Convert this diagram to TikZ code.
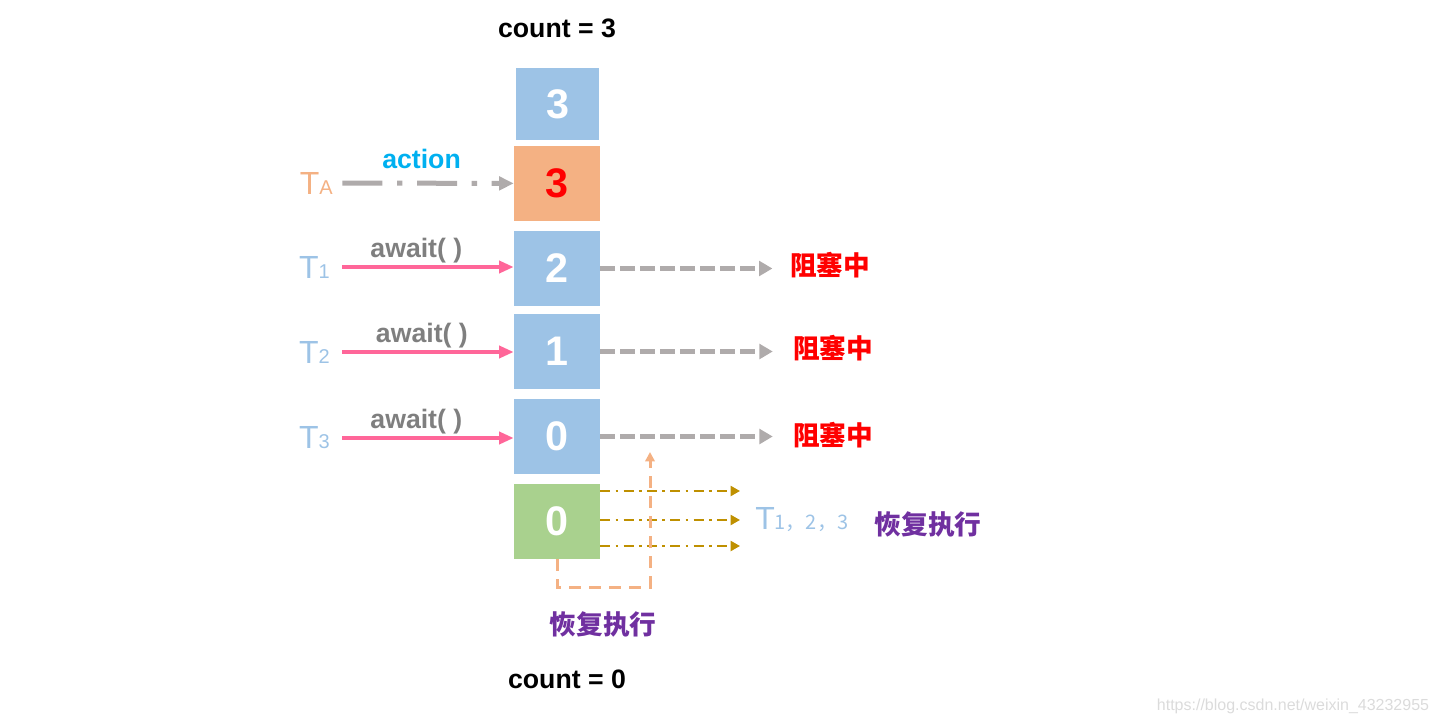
\documentclass[tikz,border=0pt]{standalone}
\usepackage{fontspec}
\setmainfont{Liberation Sans}
\newfontfamily\cjk{Noto Sans CJK SC}
\usetikzlibrary{arrows.meta,positioning}
\definecolor{cellblue}{HTML}{9DC3E6}
\definecolor{cellorange}{HTML}{F4B183}
\definecolor{cellgreen}{HTML}{A9D18E}
\definecolor{waitgray}{HTML}{AFABAB}
\definecolor{awaitpink}{HTML}{FF6699}
\definecolor{labelgray}{HTML}{7F7F7F}
\definecolor{actionblue}{HTML}{00B0F0}
\definecolor{wakeolive}{HTML}{BF9000}
\definecolor{wakepurple}{HTML}{7030A0}
\tikzset{
  cell/.style={fill=cellblue, minimum width=64.5pt, minimum height=56pt, inner sep=0pt, text=white, font=\fontsize{31}{31}\selectfont\bfseries},
  thr/.style={anchor=east, inner sep=0pt, text=cellblue, font=\fontsize{24}{24}\selectfont},
  lbl/.style={inner sep=0pt, font=\fontsize{20}{24}\selectfont\bfseries},
  zh/.style={inner sep=0pt, font=\fontsize{20}{24}\selectfont\cjk\bfseries},
  awaitarr/.style={draw=awaitpink, line width=3pt, -{Triangle[length=11pt,width=9pt]}},
  blockarr/.style={draw=waitgray, line width=3.75pt, dash pattern=on 11pt off 4pt, -{Triangle[length=10pt,width=11pt]}},
  wakearr/.style={draw=wakeolive, line width=1.5pt, dash pattern=on 7.5pt off 4pt on 2pt off 4pt, -{Triangle[length=7pt,width=7.5pt]}}
}
\begin{document}
\begin{tikzpicture}[x=0.75pt, y=-0.75pt]
\useasboundingbox (0,0) rectangle (1438,724);
\node[lbl] (cnt3) at (557,28) {count = 3};
\node[cell, minimum width=62pt, minimum height=54pt] (top) at (557.5,104) {3};
\node[cell, fill=cellorange, text=red] (cellA) at (557,183.5) {3};
\node[cell] (cell2) at (557,268.5) {2};
\node[cell] (cell1) at (557,351.5) {1};
\node[cell] (cell0) at (557,436.5) {0};
\node[cell, fill=cellgreen] (cellG) at (557,521.5) {0};
\node[thr, text=cellorange] (tA) at (333,183) {T{\fontsize{15}{15}\selectfont A}};
\node[thr] (t1) at (330,267) {T{\fontsize{15}{15}\selectfont 1}};
\node[thr] (t2) at (330,352) {T{\fontsize{15}{15}\selectfont 2}};
\node[thr] (t3) at (330,438) {T{\fontsize{15}{15}\selectfont 3}};
\draw[waitgray, line width=3.75pt, dash pattern=on 30pt off 11pt on 4pt off 11pt, -{Triangle[length=11pt,width=10pt]}, shorten <=7pt]
  (tA) -- node[lbl, above=9pt, text=actionblue, pos=0.49] (act) {action} (cellA);
\draw[awaitarr, shorten <=9pt] (t1) -- node[lbl, above=1.5pt, text=labelgray, pos=0.47] (aw1) {await( )} (t1 -| cell2.west);
\draw[awaitarr, shorten <=9pt] (t2) -- node[lbl, above=1.5pt, text=labelgray, pos=0.5] (aw2) {await( )} (t2 -| cell1.west);
\draw[awaitarr, shorten <=9pt] (t3) -- node[lbl, above=1.5pt, text=labelgray, pos=0.47] (aw3) {await( )} (t3 -| cell0.west);
\node[zh, text=red] (blk2) at (830,265) {阻塞中};
\node[zh, text=red] (blk1) at (833,348) {阻塞中};
\node[zh, text=red] (blk0) at (833,435) {阻塞中};
\draw[blockarr] (cell2.east) -- ([xshift=-13pt]cell2.east -| blk2.west);
\draw[blockarr] (cell1.east) -- ([xshift=-15pt]cell1.east -| blk1.west);
\draw[blockarr] (cell0.east) -- ([xshift=-15pt]cell0.east -| blk0.west);
\node[thr, anchor=west] (t123) at (755,520) {T{\fontsize{15}{15}\selectfont\cjk 1，2，3}};
\node[zh, text=wakepurple] (resume) at (928,524) {恢复执行};
\coordinate (wakeend) at (740,520);
\foreach \dy in {-30.5,-1.5,24.5}
  \draw[wakearr] ([yshift=-\dy*0.75pt]cellG.east) -- ([yshift=-\dy*0.75pt]cellG.east -| wakeend);
\coordinate (wakeup) at (650,452);
\draw[cellorange, line width=2.25pt, dash pattern=on 9pt off 6pt, -{Triangle[length=7pt,width=7pt]}]
  (cellG.south) -- ++(0,28) -| (wakeup);
\node[zh, text=wakepurple] (resume2) at (603,624) {恢复执行};
\node[lbl] (cnt0) at (567,679) {count = 0};
\node[inner sep=0pt, text=black!14, font=\fontsize{12}{12}\selectfont] (mark) at (1293,706) {https://blog.csdn.net/weixin\_43232955};
\end{tikzpicture}
\end{document}
